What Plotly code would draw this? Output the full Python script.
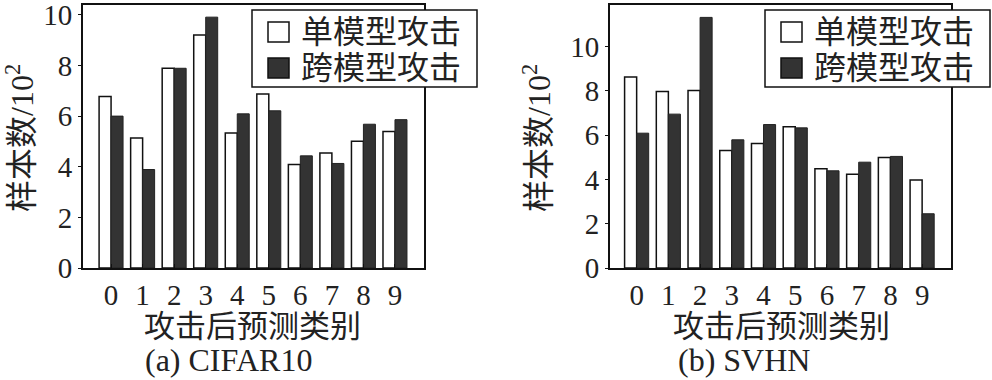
import plotly.graph_objects as go

categories = ["0", "1", "2", "3", "4", "5", "6", "7", "8", "9"]

# CIFAR10 (units of 10^2 samples)
cifar_single = [6.78, 5.14, 7.89, 9.20, 5.33, 6.87, 4.09, 4.54, 5.01, 5.39]
cifar_cross = [6.00, 3.89, 7.89, 9.91, 6.09, 6.21, 4.43, 4.13, 5.68, 5.86]

# SVHN (units of 10^2 samples)
svhn_single = [8.63, 7.97, 8.02, 5.31, 5.62, 6.38, 4.48, 4.23, 4.99, 3.98]
svhn_cross = [6.09, 6.95, 11.32, 5.79, 6.48, 6.33, 4.39, 4.78, 5.04, 2.45]

y_ticks = [0, 2, 4, 6, 8, 10]
series_names = ["单模型攻击", "跨模型攻击"]
x_title = "攻击后预测类别"
y_title = "样本数/10<sup>2</sup>"
captions = ["(a) CIFAR10", "(b) SVHN"]

W, H = 992, 380
FONT = "Liberation Serif, Noto Sans CJK SC, serif"
SERIF = "Liberation Serif, serif"
DARK = "#333333"
INK = "#111111"
TXT = "#222222"
SERIES_FILL = ["white", DARK]

fig = go.Figure()

def add_pair(single, cross, xa, ya):
    fig.add_trace(go.Bar(x=categories, y=single, name=series_names[0],
                         marker=dict(color=SERIES_FILL[0], line=dict(color=INK, width=1.5)),
                         xaxis=xa, yaxis=ya, showlegend=False))
    fig.add_trace(go.Bar(x=categories, y=cross, name=series_names[1],
                         marker=dict(color=SERIES_FILL[1], line=dict(color="#222222", width=1)),
                         xaxis=xa, yaxis=ya, showlegend=False))

add_pair(cifar_single, cifar_cross, "x", "y")
add_pair(svhn_single, svhn_cross, "x2", "y2")

def px_x(v):
    return v / W

def px_y(v):
    return 1 - v / H

axis_common = dict(showline=True, linecolor=INK, linewidth=2, mirror=True,
                   showgrid=False, zeroline=False, automargin=False,
                   ticklabeloverflow="allow",
                   tickfont=dict(family=SERIF, size=29, color=TXT))

y_dom = [px_y(268), px_y(5)]

fig.update_layout(
    width=W, height=H,
    margin=dict(l=0, r=0, t=0, b=0, autoexpand=False),
    paper_bgcolor="white", plot_bgcolor="white",
    barmode="group", bargap=0.24, bargroupgap=0,
    font=dict(family=FONT, color=TXT),
    showlegend=False,
    xaxis=dict(domain=[px_x(83), px_x(424)], range=[-0.89, 9.92], anchor="y",
               type="category", tickmode="array", tickvals=categories, ticktext=categories,
               ticks="inside", ticklen=4, tickcolor=INK, **axis_common),
    yaxis=dict(domain=y_dom, range=[0, 10.39], anchor="x", tickvals=y_ticks,
               ticks="outside", ticklen=3, tickcolor=INK, **axis_common),
    xaxis2=dict(domain=[px_x(610), px_x(951)], range=[-0.84, 9.91], anchor="y2",
                type="category", tickmode="array", tickvals=categories, ticktext=categories,
                ticks="inside", ticklen=4, tickcolor=INK, **axis_common),
    yaxis2=dict(domain=y_dom, range=[0, 11.88], anchor="x2", tickvals=y_ticks,
                ticks="outside", ticklen=3, tickcolor=INK, **axis_common),
)

# custom legends (box, swatches, labels) for each panel
for ox in (0, 513):
    x0 = 252 + ox
    fig.add_shape(type="rect", xref="paper", yref="paper",
                  x0=px_x(x0), x1=px_x(x0 + 225), y0=px_y(87), y1=px_y(10),
                  line=dict(color=INK, width=1.5), fillcolor="white", layer="above")
    for name, fill, cy in zip(series_names, SERIES_FILL, (32, 68)):
        fig.add_shape(type="rect", xref="paper", yref="paper",
                      x0=px_x(x0 + 16), x1=px_x(x0 + 37), y0=px_y(cy + 10), y1=px_y(cy - 10),
                      line=dict(color=INK, width=1.5), fillcolor=fill, layer="above")
        fig.add_annotation(xref="paper", yref="paper", x=px_x(x0 + 47), y=px_y(cy),
                           xanchor="left", yanchor="middle", showarrow=False, text=name,
                           font=dict(family=FONT, size=32, color=TXT))

annotations = [
    dict(text=x_title, x=px_x(252), y=px_y(326), font=dict(family=FONT, size=31, color=TXT)),
    dict(text=x_title, x=px_x(781), y=px_y(326), font=dict(family=FONT, size=31, color=TXT)),
    dict(text=captions[0], x=px_x(228), y=px_y(360), font=dict(family=SERIF, size=32, color=TXT)),
    dict(text=captions[1], x=px_x(744), y=px_y(360), font=dict(family=SERIF, size=32, color=TXT)),
    dict(text=y_title, x=px_x(20), y=px_y(138), textangle=-90, font=dict(family=FONT, size=32, color=TXT)),
    dict(text=y_title, x=px_x(537), y=px_y(138), textangle=-90, font=dict(family=FONT, size=32, color=TXT)),
]
for a in annotations:
    fig.add_annotation(xref="paper", yref="paper", xanchor="center", yanchor="middle",
                       showarrow=False, **a)

fig.write_html("out.html", config={"displayModeBar": False},
               post_script="document.body.style.margin='0';")
